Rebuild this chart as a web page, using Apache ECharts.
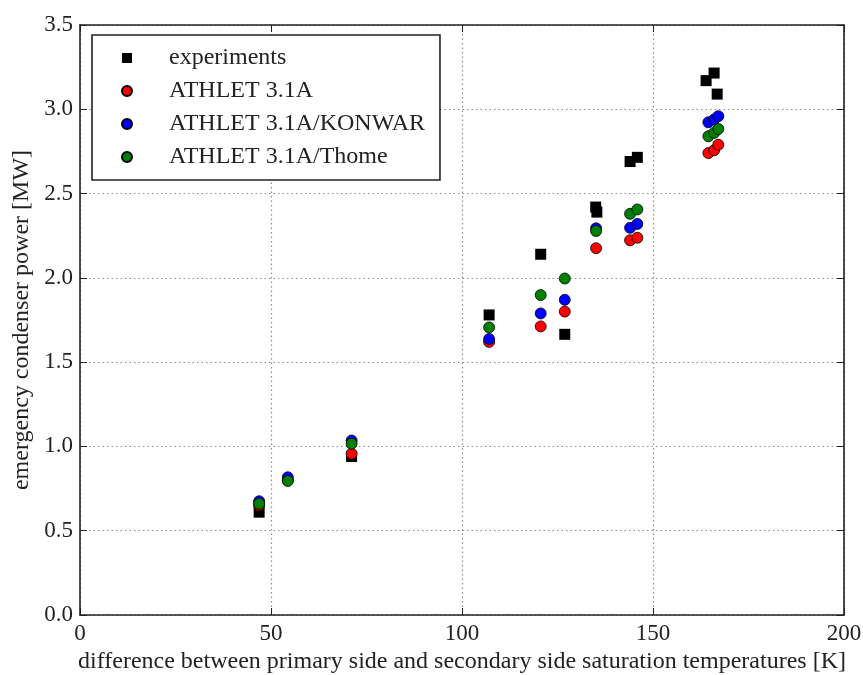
<!DOCTYPE html>
<html>
<head>
<meta charset="utf-8">
<script src="https://cdn.jsdelivr.net/npm/echarts@6/dist/echarts.min.js"></script>
<style>
  html, body { margin: 0; padding: 0; background: #fff; }
  #chart { width: 863px; height: 675px; }
</style>
</head>
<body>
<div id="chart"></div>
<script>
// Emergency condenser power vs. temperature difference: measurements and three ATHLET model variants
const seriesNames = ['experiments', 'ATHLET 3.1A', 'ATHLET 3.1A/KONWAR', 'ATHLET 3.1A/Thome'];

// [temperature difference K, power MW]
const experiments = [
  [46.9, 0.61], [71.1, 0.94], [107.1, 1.78], [120.6, 2.14], [126.9, 1.665],
  [135.0, 2.42], [135.3, 2.39], [144.0, 2.69], [145.9, 2.715],
  [163.9, 3.17], [166.0, 3.215], [166.8, 3.09]
];
const athlet = [
  [46.9, 0.65], [54.4, 0.80], [71.1, 0.957], [107.1, 1.62], [120.6, 1.712],
  [126.9, 1.80], [135.1, 2.176], [144.0, 2.223], [145.9, 2.238],
  [164.5, 2.74], [166.0, 2.757], [167.1, 2.79]
];
const athletKonwar = [
  [46.9, 0.675], [54.4, 0.817], [71.1, 1.035], [107.1, 1.637], [120.6, 1.789],
  [126.9, 1.87], [135.1, 2.294], [144.0, 2.297], [145.9, 2.32],
  [164.5, 2.923], [166.0, 2.94], [167.1, 2.959]
];
const athletThome = [
  [46.9, 0.66], [54.4, 0.795], [71.1, 1.016], [107.1, 1.706], [120.6, 1.898],
  [126.9, 1.996], [135.1, 2.278], [144.0, 2.38], [145.9, 2.406],
  [164.5, 2.84], [166.0, 2.86], [167.1, 2.883]
];

const xTicks = { min: 0, max: 200, interval: 50 };
const yTicks = { min: 0, max: 3.5, interval: 0.5 };

const FONT = '"Liberation Serif", "Times New Roman", serif';
const TEXT = '#222';
const FRAME = '#222';

const chart = echarts.init(document.getElementById('chart'), null, { renderer: 'canvas' });

const gridLine = { show: true, lineStyle: { color: '#8c8c8c', width: 1.2, type: [1.5, 3] } };
const frameLine = { show: true, onZero: false, lineStyle: { color: FRAME, width: 1.6 } };
const innerTick = { show: true, inside: true, length: 7, lineStyle: { color: FRAME, width: 1 } };

chart.setOption({
  backgroundColor: '#fff',
  animation: false,
  grid: { left: 80, right: 19, top: 25, bottom: 60, containLabel: false, outerBoundsMode: 'none' },
  xAxis: [
    {
      type: 'value', position: 'bottom', ...xTicks,
      axisLine: frameLine, axisTick: innerTick, splitLine: gridLine,
      axisLabel: { color: TEXT, fontFamily: FONT, fontSize: 23, margin: 7 },
      name: 'difference between primary side and secondary side saturation temperatures [K]',
      nameLocation: 'middle', nameGap: 35,
      nameTextStyle: { color: TEXT, fontFamily: FONT, fontSize: 24 }
    },
    {
      type: 'value', position: 'top', ...xTicks,
      axisLine: frameLine, axisTick: innerTick,
      axisLabel: { show: false }, splitLine: { show: false }
    }
  ],
  yAxis: [
    {
      type: 'value', position: 'left', ...yTicks,
      axisLine: frameLine, axisTick: innerTick, splitLine: gridLine,
      axisLabel: { color: TEXT, fontFamily: FONT, fontSize: 23, margin: 7,
                   formatter: v => v.toFixed(1) },
      name: 'emergency condenser power [MW]',
      nameLocation: 'middle', nameGap: 42,
      nameTextStyle: { color: TEXT, fontFamily: FONT, fontSize: 24 }
    },
    {
      type: 'value', position: 'right', ...yTicks,
      axisLine: frameLine, axisTick: innerTick,
      axisLabel: { show: false }, splitLine: { show: false }
    }
  ],
  legend: {
    data: seriesNames,
    orient: 'vertical',
    left: 92, top: 35,
    itemWidth: 10, itemHeight: 10, itemGap: 9,
    padding: [11, 15, 11, 29],
    borderColor: FRAME, borderWidth: 1.6,
    backgroundColor: '#fff',
    selectedMode: false,
    textStyle: { color: TEXT, fontFamily: FONT, fontSize: 24, lineHeight: 24, padding: [0, 0, 0, 32] }
  },
  series: [
    {
      name: seriesNames[0], type: 'scatter', data: experiments,
      symbol: 'rect', symbolSize: 11,
      itemStyle: { color: '#000', borderColor: '#000', borderWidth: 0, opacity: 1 }
    },
    {
      name: seriesNames[1], type: 'scatter', data: athlet,
      symbol: 'circle', symbolSize: 11,
      itemStyle: { color: '#ff0000', borderColor: '#000', borderWidth: 0.8, opacity: 1 }
    },
    {
      name: seriesNames[2], type: 'scatter', data: athletKonwar,
      symbol: 'circle', symbolSize: 11,
      itemStyle: { color: '#0000ff', borderColor: '#000', borderWidth: 0.8, opacity: 1 }
    },
    {
      name: seriesNames[3], type: 'scatter', data: athletThome,
      symbol: 'circle', symbolSize: 11,
      itemStyle: { color: '#008000', borderColor: '#000', borderWidth: 0.8, opacity: 1 }
    }
  ]
});
</script>
</body>
</html>
